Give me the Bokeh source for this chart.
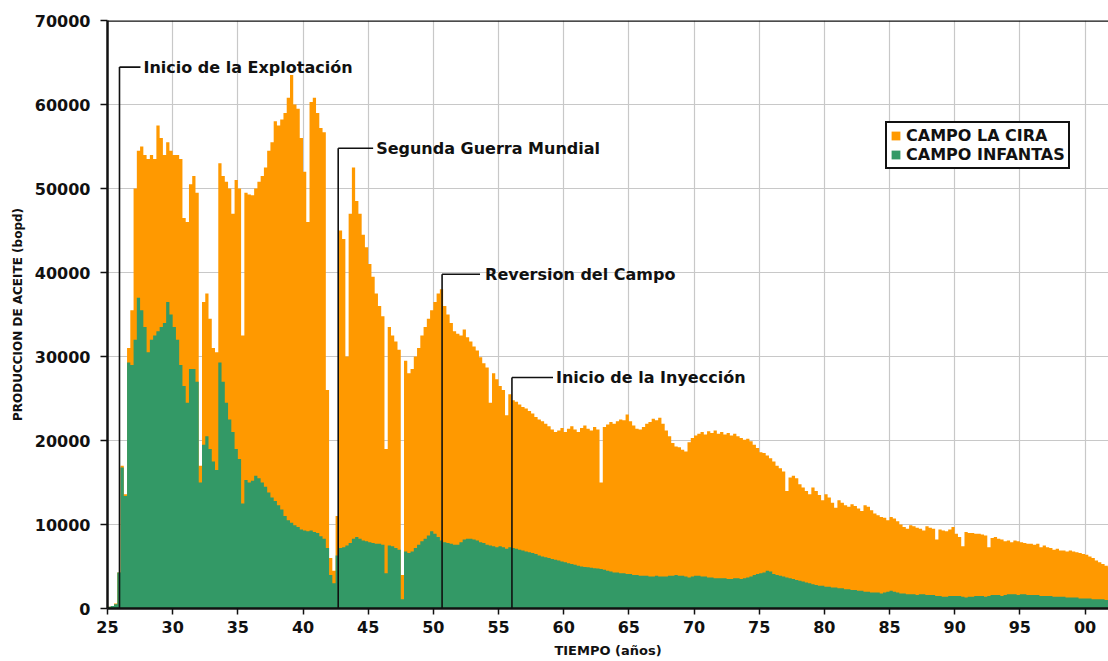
import numpy as np
from bokeh.plotting import figure
from bokeh.models import (ColumnDataSource, FixedTicker, NumeralTickFormatter,
                          Range1d, Legend, LegendItem, Span)
from bokeh.embed import file_html
from bokeh.resources import INLINE
from bokeh.core.properties import value

# ---------------- data (quarterly values, bopd) ----------------
START_YEAR = 25.0   # first quarter shown (1925)
STEP = 0.25         # one value per quarter

la_cira = [
    200, 300, 600, 4300,          # 25
    17000, 13600, 31000, 35500,   # 26
    50000, 54500, 55000, 54000,   # 27
    53500, 54000, 53500, 57500,   # 28
    56000, 54000, 55500, 54500,   # 29
    54000, 54000, 53500, 46500,   # 30
    46000, 50500, 51500, 49500,   # 31
    17000, 36500, 37500, 34500,   # 32
    31000, 30500, 53000, 51500,   # 33
    50800, 50000, 47000, 51000,   # 34
    50000, 32500, 49500, 49300,   # 35
    49200, 50000, 50800, 51500,   # 36
    52500, 54500, 55500, 58000,   # 37
    57500, 58200, 59000, 60800,   # 38
    63500, 60000, 59500, 56000,   # 39
    52000, 46000, 60300, 60800,   # 40
    59000, 57200, 56700, 26000,   # 41
    6000, 4500, 11000, 45000,     # 42
    44000, 30000, 47000, 52500,   # 43
    48500, 47000, 44500, 43000,   # 44
    41000, 39500, 37500, 36000,   # 45
    34800, 19000, 33500, 32500,   # 46
    31800, 30800, 4000, 29500,    # 47
    28000, 28500, 30000, 31000,   # 48
    32500, 33500, 34500, 35500,   # 49
    36500, 37500, 38000, 36000,   # 50
    35000, 34000, 33000, 32700,   # 51
    32500, 33200, 32300, 31800,   # 52
    31200, 30700, 29900, 29200,   # 53
    28700, 24500, 28000, 27300,   # 54
    26500, 26000, 23000, 25500,   # 55
    24800, 24600, 24300, 24000,   # 56
    23800, 23500, 23200, 22800,   # 57
    22500, 22300, 22000, 21700,   # 58
    21300, 21000, 21200, 21500,   # 59
    21000, 21400, 21700, 21300,   # 60
    21000, 21500, 21800, 21400,   # 61
    21200, 21600, 21300, 15000,   # 62
    21600, 21900, 22200, 22000,   # 63
    22300, 22500, 22400, 23100,   # 64
    22300, 21800, 21400, 21300,   # 65
    21600, 22000, 22200, 22600,   # 66
    22400, 22700, 22000, 21200,   # 67
    20500, 19700, 19300, 19200,   # 68
    18900, 18700, 19800, 20300,   # 69
    20600, 20800, 21000, 20700,   # 70
    21100, 20900, 21200, 20800,   # 71
    21000, 20700, 20900, 20600,   # 72
    20800, 20500, 20300, 20100,   # 73
    20200, 19900, 19500, 19100,   # 74
    18600, 18500, 18200, 17900,   # 75
    17500, 17000, 16700, 16300,   # 76
    14000, 15600, 15800, 15500,   # 77
    14800, 14400, 14000, 13600,   # 78
    14400, 14000, 13500, 12900,   # 79
    13600, 13200, 12600, 12000,   # 80
    12900, 12600, 12300, 12100,   # 81
    12400, 12200, 11900, 11600,   # 82
    12300, 12100, 11700, 11300,   # 83
    11100, 10900, 10800, 10500,   # 84
    10900, 10700, 10400, 10000,   # 85
    9700, 9500, 9900, 9800,       # 86
    9600, 9500, 9300, 9800,       # 87
    9600, 9500, 8200, 9400,       # 88
    9300, 9200, 9400, 9700,       # 89
    8900, 8500, 7400, 9100,       # 90
    9000, 9000, 8900, 8900,       # 91
    8800, 8700, 7300, 8400,       # 92
    8500, 8300, 8200, 8000,       # 93
    8100, 7900, 8100, 8000,       # 94
    7900, 7800, 7700, 7700,       # 95
    7600, 7700, 7300, 7500,       # 96
    7300, 7200, 7000, 7100,       # 97
    6900, 6900, 6800, 6900,       # 98
    6800, 6700, 6600, 6500,       # 99
    6400, 6200, 6000, 5700,       # 00
    5500, 5300, 5100, 4900,       # 01
]

infantas = [
    200, 300, 500, 4300,          # 25
    16800, 13400, 29300, 29000,   # 26
    32000, 37000, 35500, 33500,   # 27
    30500, 32000, 32500, 33000,   # 28
    33500, 34000, 36500, 35000,   # 29
    33500, 32000, 29000, 26500,   # 30
    24500, 28500, 28500, 27000,   # 31
    15000, 19500, 20500, 19000,   # 32
    17500, 16500, 29300, 27000,   # 33
    24500, 22500, 21000, 19000,   # 34
    17800, 12500, 15300, 15000,   # 35
    15200, 15800, 15500, 15000,   # 36
    14500, 13800, 13200, 12800,   # 37
    12300, 11800, 11000, 10500,   # 38
    10200, 9900, 9700, 9400,      # 39
    9300, 9200, 9300, 9100,       # 40
    9000, 8600, 8300, 7200,       # 41
    4000, 3000, 6300, 7200,       # 42
    7300, 7500, 7800, 8300,       # 43
    8500, 8300, 8100, 8000,       # 44
    7900, 7800, 7700, 7700,       # 45
    7600, 4200, 7500, 7400,       # 46
    7200, 7000, 1100, 6800,       # 47
    6600, 6800, 7200, 7600,       # 48
    8000, 8300, 8700, 9200,       # 49
    8900, 8500, 8100, 7900,       # 50
    7800, 7700, 7600, 7600,       # 51
    7900, 8200, 8300, 8300,       # 52
    8200, 8100, 7900, 7800,       # 53
    7600, 7500, 7400, 7300,       # 54
    7400, 7300, 7100, 7300,       # 55
    7200, 7100, 7000, 6900,       # 56
    6800, 6700, 6600, 6500,       # 57
    6300, 6200, 6100, 6000,       # 58
    5900, 5800, 5700, 5600,       # 59
    5500, 5400, 5300, 5200,       # 60
    5100, 5000, 4950, 4900,       # 61
    4850, 4800, 4750, 4700,       # 62
    4600, 4500, 4400, 4300,       # 63
    4300, 4200, 4200, 4100,       # 64
    4100, 4000, 4000, 3900,       # 65
    3900, 3900, 3800, 3800,       # 66
    3900, 3800, 3800, 3800,       # 67
    3900, 3900, 4000, 3900,       # 68
    3900, 3800, 3700, 3800,       # 69
    3900, 3900, 3800, 3800,       # 70
    3700, 3700, 3600, 3600,       # 71
    3600, 3600, 3500, 3500,       # 72
    3600, 3600, 3500, 3600,       # 73
    3700, 3800, 4000, 4100,       # 74
    4200, 4300, 4500, 4400,       # 75
    4100, 4000, 3900, 3800,       # 76
    3700, 3600, 3500, 3400,       # 77
    3300, 3200, 3100, 3000,       # 78
    2900, 2800, 2700, 2700,       # 79
    2600, 2600, 2500, 2500,       # 80
    2400, 2400, 2300, 2300,       # 81
    2200, 2200, 2100, 2100,       # 82
    2000, 2000, 1900, 1900,       # 83
    1900, 1800, 1900, 2000,       # 84
    2100, 2000, 1900, 1800,       # 85
    1800, 1700, 1700, 1700,       # 86
    1600, 1700, 1700, 1600,       # 87
    1600, 1600, 1500, 1500,       # 88
    1400, 1400, 1500, 1500,       # 89
    1500, 1500, 1400, 1300,       # 90
    1400, 1400, 1500, 1500,       # 91
    1500, 1400, 1500, 1600,       # 92
    1600, 1600, 1500, 1600,       # 93
    1700, 1700, 1700, 1600,       # 94
    1700, 1700, 1600, 1600,       # 95
    1600, 1600, 1500, 1500,       # 96
    1500, 1500, 1400, 1400,       # 97
    1400, 1400, 1300, 1300,       # 98
    1300, 1300, 1200, 1200,       # 99
    1200, 1200, 1100, 1100,       # 00
    1100, 1100, 1000, 1000,       # 01
]

series_names = ["CAMPO LA CIRA", "CAMPO INFANTAS"]

x_ticks = [25, 30, 35, 40, 45, 50, 55, 60, 65, 70, 75, 80, 85, 90, 95, 100]
x_tick_labels = ["25", "30", "35", "40", "45", "50", "55", "60", "65", "70",
                 "75", "80", "85", "90", "95", "00"]
y_ticks = [0, 10000, 20000, 30000, 40000, 50000, 60000, 70000]

ann_labels = ["Inicio de la Explotación", "Segunda Guerra Mundial",
              "Reversion del Campo", "Inicio de la Inyección"]
ann_year = [25.92, 42.70, 50.67, 56.03]
ann_level = [64450, 54800, 39800, 27500]

# ---------------- layout / style (kept apart from the data) ----------------
ann_line_end = [27.53, 45.38, 53.58, 59.18]
ann_text_x = [27.76, 45.61, 53.97, 59.41]

ORANGE = "#FF9900"
GREEN = "#339966"
INK = "#111111"
FONT = "DejaVu Sans"

assert len(la_cira) == len(infantas)
n = len(la_cira)
years = list(START_YEAR + STEP * np.arange(n + 1))
src_cira = ColumnDataSource(dict(x=years, y1=[0] * (n + 1), y2=la_cira + [la_cira[-1]]))
src_inf = ColumnDataSource(dict(x=years, y1=[0] * (n + 1), y2=infantas + [infantas[-1]]))

p = figure(width=1108, height=661, output_backend="svg", toolbar_location=None,
           x_range=Range1d(25, 101.8), y_range=Range1d(0, 70000),
           min_border_left=107, min_border_right=0, min_border_top=20,
           min_border_bottom=53)
p.background_fill_color = "white"
p.border_fill_color = "white"
p.outline_line_color = None

r1 = p.varea_step(x="x", y1="y1", y2="y2", step_mode="after", source=src_cira,
                  fill_color=ORANGE)
r2 = p.varea_step(x="x", y1="y1", y2="y2", step_mode="after", source=src_inf,
                  fill_color=GREEN)

# grid
p.xgrid.ticker = FixedTicker(ticks=x_ticks)
p.ygrid.ticker = FixedTicker(ticks=y_ticks)
for g in (p.xgrid, p.ygrid):
    g.grid_line_color = "#C8C8C8"
    g.grid_line_width = 1.2

# top frame line
p.add_layout(Span(location=70000, dimension="width", line_color=INK, line_width=2.5))

# axes
p.xaxis.ticker = FixedTicker(ticks=x_ticks)
p.xaxis.major_label_overrides = {t: lab for t, lab in zip(x_ticks, x_tick_labels)}
p.yaxis.ticker = FixedTicker(ticks=y_ticks)
p.yaxis.formatter = NumeralTickFormatter(format="0")
for ax in (p.xaxis, p.yaxis):
    ax.axis_line_color = INK
    ax.axis_line_width = 2.5
    ax.major_tick_line_color = INK
    ax.major_tick_line_width = 1.5
    ax.major_tick_in = 0
    ax.minor_tick_line_color = None
    ax.major_label_text_font = FONT
    ax.major_label_text_font_style = "bold"
    ax.major_label_text_font_size = "16px"
    ax.major_label_text_color = INK
    ax.axis_label_text_font = FONT
    ax.axis_label_text_font_style = "bold"
    ax.axis_label_text_color = INK
p.yaxis.major_tick_out = 7
p.yaxis.major_label_standoff = 10
p.xaxis.major_tick_out = 6
p.xaxis.major_label_standoff = 6
p.xaxis.axis_label = "TIEMPO (años)"
p.xaxis.axis_label_text_font_size = "13px"
p.xaxis.axis_label_standoff = 7
p.yaxis.axis_label = "PRODUCCION DE ACEITE (bopd)"
p.yaxis.axis_label_text_font_size = "12px"
p.yaxis.axis_label_standoff = 7

# event annotations
p.segment(x0=ann_year, y0=[0] * len(ann_year), x1=ann_year, y1=ann_level,
          line_color=INK, line_width=1.6)
p.segment(x0=ann_year, y0=ann_level, x1=ann_line_end, y1=ann_level,
          line_color=INK, line_width=1.6)
p.text(x=ann_text_x, y=ann_level, text=ann_labels,
       text_font=value(FONT), text_font_style="bold", text_font_size="16px",
       text_baseline="middle", text_align="left", text_color=INK)

legend = Legend(items=[LegendItem(label=series_names[0], renderers=[r1]),
                       LegendItem(label=series_names[1], renderers=[r2])],
                location=(778, 439))
legend.border_line_color = INK
legend.border_line_width = 2.5
legend.border_line_alpha = 1
legend.background_fill_color = "white"
legend.background_fill_alpha = 1
legend.label_text_font = FONT
legend.label_text_font_style = "bold"
legend.label_text_font_size = "16px"
legend.label_text_color = INK
legend.glyph_width = 11
legend.glyph_height = 11
legend.label_standoff = 5
legend.label_height = 16
legend.padding = 3
legend.spacing = 0
legend.margin = 0
p.add_layout(legend)

open("out.html", "w", encoding="utf-8").write(file_html(p, INLINE, title="Produccion"))
